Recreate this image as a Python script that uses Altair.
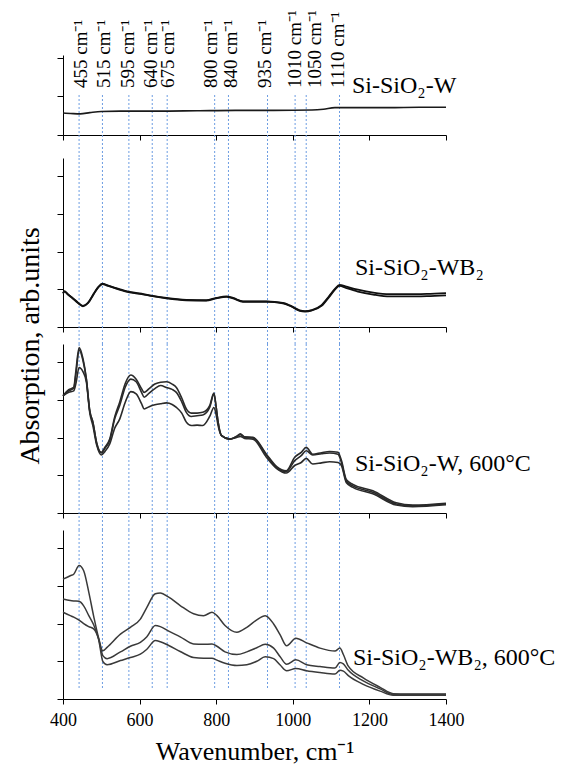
import altair as alt
import pandas as pd

FONT = "Liberation Serif"

# ---------------- data ----------------
# dotted reference lines (position on the wavenumber axis) and their labels
line_wn = [442, 503, 572, 633, 672, 796, 832, 934, 1006, 1035, 1122]
label_wn = [446, 506, 569, 631, 673, 786, 838, 927, 1005, 1057, 1119]
line_labels = ["455 cm⁻¹", "515 cm⁻¹", "595 cm⁻¹", "640 cm⁻¹", "675 cm⁻¹",
               "800 cm⁻¹", "840 cm⁻¹", "935 cm⁻¹", "1010 cm⁻¹", "1050 cm⁻¹", "1110 cm⁻¹"]

x_ticks = [400, 600, 800, 1000, 1200, 1400]

# panel 1: Si-SiO2-W
wn_p1 = [400, 420, 445, 470, 500, 550, 650, 750, 850, 950, 1050, 1080, 1110, 1150, 1250, 1330, 1400]
abs_p1 = [0.57, 0.56, 0.55, 0.58, 0.61, 0.62, 0.62, 0.63, 0.64, 0.64, 0.65, 0.67, 0.71, 0.71, 0.71, 0.72, 0.72]

# panel 2: Si-SiO2-WB2
wn_p2 = [400, 404, 412, 425, 440, 452, 465, 480, 492, 503, 515, 530, 565, 600, 626, 670, 722, 774, 800,
         827, 844, 870, 931, 974, 995, 1018, 1032, 1050, 1075, 1095, 1110, 1122, 1140, 1170, 1210,
         1253, 1300, 1350, 1400]
abs_p2a = [0.90, 0.95, 0.88, 0.77, 0.64, 0.56, 0.64, 0.88, 1.06, 1.15, 1.11, 1.06, 0.95, 0.89, 0.84, 0.77,
           0.72, 0.71, 0.77, 0.81, 0.77, 0.68, 0.68, 0.64, 0.56, 0.44, 0.42, 0.45, 0.58, 0.82, 1.01, 1.12,
           1.07, 0.99, 0.91, 0.87, 0.87, 0.88, 0.90]
abs_p2b = [0.89, 0.94, 0.87, 0.76, 0.63, 0.55, 0.63, 0.87, 1.05, 1.14, 1.10, 1.05, 0.94, 0.88, 0.83, 0.76,
           0.71, 0.70, 0.76, 0.80, 0.76, 0.67, 0.67, 0.63, 0.55, 0.43, 0.41, 0.44, 0.56, 0.80, 0.99, 1.09,
           1.03, 0.94, 0.86, 0.81, 0.81, 0.82, 0.84]

# panel 3: Si-SiO2-W, 600°C
wn_p3 = [400, 415, 428, 434, 442, 452, 461, 470, 478, 488, 500, 510, 522, 535, 548, 563, 577, 591, 605,
         612, 625, 640, 655, 670, 685, 696, 710, 722, 735, 750, 765, 783, 794, 800, 805, 814, 835, 853,
         863, 874, 896, 931, 958, 983, 1005, 1022, 1035, 1052, 1075, 1096, 1118, 1127, 1140, 1157,
         1209, 1270, 1313, 1400]
abs_p3_top = [3.11, 3.27, 3.33, 3.80, 4.39, 4.10, 3.55, 2.70, 2.41, 1.85, 1.61, 1.75, 1.96, 2.55, 2.94,
              3.45, 3.66, 3.55, 3.30, 3.20, 3.30, 3.42, 3.47, 3.48, 3.42, 3.33, 3.05, 2.76, 2.65, 2.65,
              2.67, 2.85, 3.18, 2.80, 2.41, 2.05, 1.96, 2.03, 2.10, 2.02, 2.01, 1.56, 1.23, 1.12, 1.48,
              1.61, 1.74, 1.56, 1.60, 1.63, 1.61, 1.39, 0.88, 0.76, 0.59, 0.27, 0.21, 0.26]
abs_p3_mid = [3.11, 3.24, 3.31, 3.70, 4.33, 4.05, 3.55, 2.70, 2.41, 1.85, 1.59, 1.72, 1.92, 2.50, 2.85,
              3.35, 3.55, 3.48, 3.20, 3.07, 3.18, 3.30, 3.38, 3.33, 3.28, 3.20, 2.95, 2.67, 2.56, 2.58,
              2.60, 2.80, 3.16, 2.80, 2.41, 2.05, 1.96, 2.03, 2.08, 2.01, 1.99, 1.54, 1.20, 1.10, 1.39,
              1.52, 1.65, 1.54, 1.57, 1.59, 1.56, 1.34, 0.84, 0.72, 0.55, 0.24, 0.19, 0.24]
abs_p3_low = [3.11, 3.20, 3.24, 3.45, 3.86, 3.75, 3.48, 2.65, 2.32, 1.80, 1.54, 1.64, 1.83, 2.25, 2.49,
              2.95, 3.22, 3.16, 2.90, 2.76, 2.82, 2.87, 2.90, 2.92, 2.88, 2.80, 2.65, 2.41, 2.32, 2.33,
              2.32, 2.56, 2.80, 2.60, 2.32, 2.05, 1.96, 2.00, 2.03, 1.98, 1.96, 1.48, 1.18, 1.06, 1.26,
              1.34, 1.45, 1.30, 1.33, 1.36, 1.34, 1.26, 0.80, 0.68, 0.51, 0.21, 0.17, 0.22]

# panel 4: Si-SiO2-WB2, 600°C
wn_p4 = [400, 419, 428, 442, 454, 467, 480, 493, 504, 515, 550, 576, 602, 619, 641, 654, 676, 706, 741,
         767, 789, 802, 823, 854, 880, 906, 928, 950, 967, 984, 1008, 1036, 1071, 1110, 1123, 1132,
         1145, 1184, 1228, 1262, 1300, 1400]
abs_p4_top = [3.18, 3.27, 3.31, 3.54, 3.40, 2.85, 2.20, 1.62, 1.28, 1.37, 1.72, 1.90, 2.12, 2.43, 2.79,
              2.81, 2.70, 2.48, 2.26, 2.21, 2.30, 2.21, 1.95, 1.77, 1.90, 2.10, 2.21, 1.99, 1.70, 1.41,
              1.61, 1.49, 1.35, 1.27, 1.35, 1.18, 0.87, 0.56, 0.31, 0.14, 0.13, 0.13]
abs_p4_mid = [2.65, 2.61, 2.60, 2.59, 2.47, 2.22, 1.97, 1.60, 1.15, 1.07, 1.25, 1.40, 1.50, 1.65, 1.95,
              1.92, 1.80, 1.65, 1.46, 1.45, 1.46, 1.40, 1.25, 1.18, 1.25, 1.36, 1.45, 1.35, 1.12, 0.92,
              1.04, 0.91, 0.86, 0.82, 0.97, 0.93, 0.76, 0.48, 0.27, 0.12, 0.12, 0.12]
abs_p4_low = [2.30, 2.21, 2.17, 2.09, 2.00, 1.92, 1.86, 1.58, 1.00, 0.91, 1.02, 1.10, 1.19, 1.32, 1.55,
              1.52, 1.42, 1.26, 1.10, 1.08, 1.08, 1.03, 0.95, 0.89, 0.91, 1.00, 1.12, 1.07, 0.90, 0.75,
              0.81, 0.75, 0.70, 0.66, 0.76, 0.74, 0.62, 0.39, 0.21, 0.10, 0.10, 0.10]

panel_labels = ["Si-SiO₂-W", "Si-SiO₂-WB₂", "Si-SiO₂-W, 600°C", "Si-SiO₂-WB₂, 600°C"]
y_title = "Absorption, arb.units"
x_title = "Wavenumber, cm⁻¹"

# ---------------- layout ----------------
W = 383
H1, H = 80, 169
GAP1, GAP = 23, 17
BLUE = "#6d9de2"

xscale = alt.Scale(domain=[400, 1400], nice=False, zero=False)


def x_axis(show):
    if show:
        return alt.Axis(values=x_ticks, format="d", title=x_title, labelFont=FONT,
                        labelFontSize=18, labelColor="black", titleFont=FONT, titleFontSize=26,
                        titleFontWeight="normal", titleColor="black", tickSize=5,
                        labelPadding=7, titlePadding=9, domainColor="black",
                        tickColor="black", grid=False, labelFlush=False)
    return alt.Axis(values=x_ticks, labels=False, title=None, tickSize=5,
                    domainColor="black", tickColor="black", grid=False)


def y_axis(vals):
    return alt.Axis(values=vals, labels=False, title=None, tickSize=6,
                    domainColor="black", tickColor="black", grid=False)


def series_df(wn, cols):
    rows = []
    for name, vals in cols.items():
        for w, v in zip(wn, vals):
            rows.append({"wn": w, "v": v, "s": name})
    return pd.DataFrame(rows)


lines_df = pd.DataFrame({"wn": line_wn})
labels_df = pd.DataFrame({"wn": label_wn, "lab": line_labels})


def panel(df, height, ymax, yvals, color, sw, label, lx, ly, rule_y0, rule_y1,
          show_x=False, extra=None):
    base_line = alt.Chart(df).mark_line(color=color, strokeWidth=sw, interpolate="monotone").encode(
        x=alt.X("wn:Q", scale=xscale, axis=x_axis(show_x)),
        y=alt.Y("v:Q", scale=alt.Scale(domain=[0, ymax], nice=False, zero=True),
                axis=y_axis(yvals)),
        detail="s:N",
    )
    rules = alt.Chart(lines_df).mark_rule(color=BLUE, strokeDash=[2, 2], strokeWidth=1).encode(
        x=alt.X("wn:Q", scale=xscale),
        y=alt.value(rule_y0), y2=alt.value(rule_y1),
    )
    lab = alt.Chart(pd.DataFrame({"t": [label]})).mark_text(
        align="left", baseline="alphabetic", font=FONT, fontSize=24, color="black"
    ).encode(x=alt.value(lx), y=alt.value(ly), text="t:N")
    layers = [rules, base_line, lab]
    if extra is not None:
        layers += extra
    return alt.layer(*layers).properties(width=W, height=height)


top_text = alt.Chart(labels_df).mark_text(
    angle=270, align="left", baseline="middle", font=FONT, fontSize=19, color="black"
).encode(x=alt.X("wn:Q", scale=xscale), y=alt.value(33), text="lab:N")

ytitle = alt.Chart(pd.DataFrame({"t": [y_title]})).mark_text(
    angle=270, align="center", baseline="middle", font=FONT, fontSize=28, color="black"
).encode(x=alt.value(-32), y=alt.value(2), text="t:N")

p1 = panel(series_df(wn_p1, {"a": abs_p1}), H1, 80 / 38.5, [0, 1, 2], "#1a1a1a", 1.6,
           panel_labels[0], 289, 38, 40, H1 + GAP1, extra=[top_text])
p2 = panel(series_df(wn_p2, {"a": abs_p2a, "b": abs_p2b}), H, H / 37.7, [0, 1, 2, 3, 4],
           "#111111", 1.8, panel_labels[1], 292, 117, 0, H + GAP)
p3 = panel(series_df(wn_p3, {"a": abs_p3_top, "b": abs_p3_mid, "c": abs_p3_low}), H, H / 37.7,
           [0, 1, 2, 3, 4], "#2a2a2a", 1.6, panel_labels[2], 292, 127, 0, H + GAP,
           extra=[ytitle])
p4 = panel(series_df(wn_p4, {"a": abs_p4_top, "b": abs_p4_mid, "c": abs_p4_low}), H, H / 37.7,
           [0, 1, 2, 3, 4], "#3a3a3a", 1.5, panel_labels[3], 290, 135, 0, H - 9, show_x=True)

lower = alt.vconcat(p2, p3, p4, spacing=GAP, bounds="flush")
chart = alt.vconcat(p1, lower, spacing=GAP1, bounds="flush").properties(
    padding={"left": 8, "top": 2, "right": 0, "bottom": 0}
).configure_view(stroke=None).configure_axis(grid=False)

chart.save("out.html", embed_options={"renderer": "svg", "actions": False})
